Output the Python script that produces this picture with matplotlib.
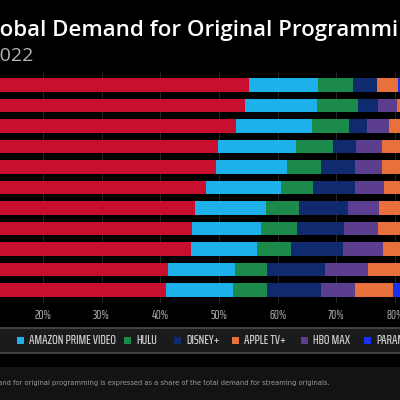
import numpy as np
import matplotlib.pyplot as plt
from matplotlib.patches import Rectangle

# quarters, oldest at the top
quarters = ['Q4 2019', 'Q1 2020', 'Q2 2020', 'Q3 2020', 'Q4 2020', 'Q1 2021',
            'Q2 2021', 'Q3 2021', 'Q4 2021', 'Q1 2022', 'Q2 2022']

# share of demand for originals (%)
netflix = [55.1, 54.4, 52.9, 49.8, 49.5, 47.7, 45.9, 45.4, 45.2, 41.3, 40.9]
amazon = [11.7, 12.3, 12.9, 13.3, 12.1, 12.8, 12.1, 11.7, 11.3, 11.4, 11.5]
hulu = [6.0, 7.0, 6.3, 6.3, 5.8, 5.5, 5.6, 6.2, 5.7, 5.5, 5.8]
disney = [4.1, 3.4, 3.1, 3.9, 5.8, 7.2, 8.3, 8.0, 8.9, 9.8, 9.2]
hbo = [0.0, 3.2, 3.7, 4.5, 4.6, 4.9, 5.3, 5.8, 6.8, 7.4, 5.8]
apple = [3.6, 4.5, 4.8, 5.0, 5.2, 5.4, 5.6, 5.7, 5.9, 6.0, 6.4]
paramount = [1.5, 1.6, 1.7, 1.8, 1.9, 2.0, 2.2, 2.4, 2.6, 2.8, 3.0]

series = [('NETFLIX', netflix, '#c8102e'),
          ('AMAZON PRIME VIDEO', amazon, '#1db0ea'),
          ('HULU', hulu, '#1c8a4b'),
          ('DISNEY+', disney, '#0f2a6e'),
          ('HBO MAX', hbo, '#5b3f8e'),
          ('APPLE TV+', apple, '#e8703a'),
          ('PARAMOUNT+', paramount, '#1a30f0')]
colors = {name: c for name, _, c in series}

# legend order as shown under the chart (netflix entry is off-canvas)
legend_names = ['AMAZON PRIME VIDEO', 'HULU', 'DISNEY+', 'APPLE TV+', 'HBO MAX', 'PARAMOUNT+']
legend_x = [17, 124, 174, 232, 301, 364]

narrow = dict(family=['Saira ExtraCondensed', 'DejaVu Sans'], fontweight='medium')

W = 400.0
fig = plt.figure(figsize=(4, 4), dpi=100, facecolor='black')
ax = fig.add_axes([0, 0.2425, 1, 0.5775])
ax.set_facecolor('black')

y = np.arange(len(quarters))
left = np.zeros(len(quarters))
for name, vals, c in series:
    ax.barh(y, vals, left=left, height=0.68, color=c, zorder=2)
    left += np.array(vals)

ticks = np.arange(20, 81, 10)
ax.set_xticks(ticks)
ax.set_xticklabels([f'{t}%' for t in ticks], fontsize=9, color='#9a9a9a', **narrow)
ax.set_yticks([])
ax.set_xlim(12.67, 80.82)
ax.set_ylim(10.634, -0.634)
ax.tick_params(axis='x', length=0, pad=4)
ax.grid(axis='x', color='#2c2c2c', lw=0.6, zorder=0)
for s in ax.spines.values():
    s.set_visible(False)

# title block (cut off at the left in the reference)
fig.text(-23 / W, 1 - 36 / W, 'Global Demand for Original Programming',
         fontsize=16, fontweight='semibold', family=['Open Sans', 'DejaVu Sans'],
         color='white', ha='left', va='baseline')
fig.text(33 / W, 1 - 61 / W, 'Q4 2019 - Q2 2022', fontsize=14,
         family=['Open Sans', 'DejaVu Sans'], color='#b4b4b4', ha='right', va='baseline')

# legend strip
fig.add_artist(Rectangle((-0.02, 1 - 353 / W), 1.04, 25 / W, transform=fig.transFigure,
                         facecolor='#1b1b1b', edgecolor='#4a4a4a', lw=1.2))
for name, x in zip(legend_names, legend_x):
    fig.add_artist(Rectangle((x / W, 1 - 344 / W), 7 / W, 7 / W, transform=fig.transFigure,
                             facecolor=colors[name], edgecolor='none'))
    fig.text((x + 12) / W, 1 - 340.5 / W, name, fontsize=9.5, color='#cfcfcf',
             ha='left', va='center', **narrow)

# footnote band
fig.add_artist(Rectangle((0, 0), 1, 33 / W, transform=fig.transFigure,
                         facecolor='#131313', edgecolor='none'))
fig.text(330 / W, 1 - 385 / W,
         'Note: Demand for original programming is expressed as a share of the total demand for streaming originals.',
         fontsize=4.9, color='#9a9a9a', ha='right', va='baseline')

fig.savefig('out.png', dpi=100, facecolor='black')
